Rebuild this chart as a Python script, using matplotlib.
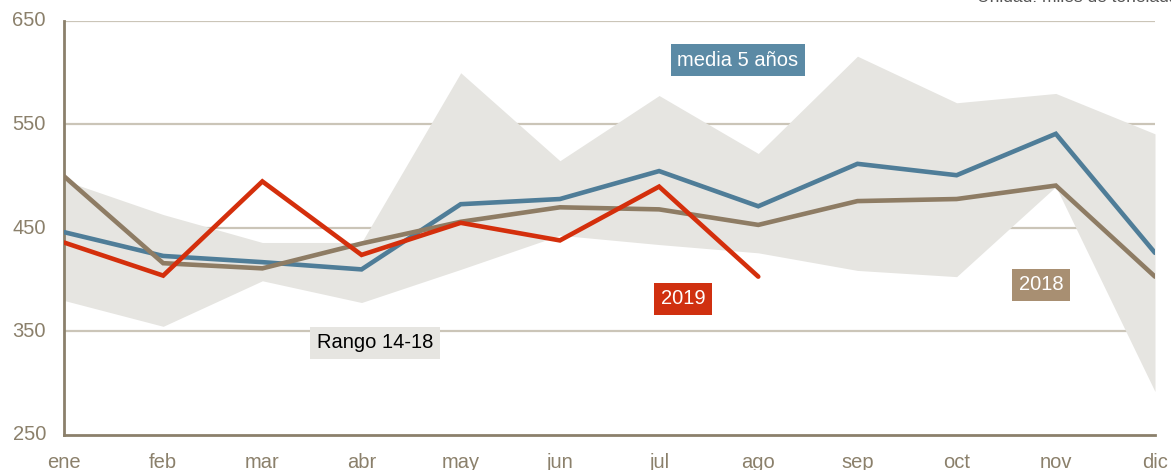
import numpy as np
import matplotlib
matplotlib.use('Agg')
import matplotlib.pyplot as plt

plt.rcParams['font.family'] = ['Liberation Sans', 'DejaVu Sans']

# data (miles de toneladas)
meses = ['ene', 'feb', 'mar', 'abr', 'may', 'jun', 'jul', 'ago', 'sep', 'oct', 'nov', 'dic']
rango_max = [496, 463, 436, 436, 600, 515, 578, 522, 616, 571, 580, 541]
rango_min = [380, 355, 399, 378, 410, 443, 434, 426, 409, 403, 490, 292]
media5 = [446, 423, 417, 410, 473, 478, 505, 471, 512, 501, 541, 426]
y2018 = [500, 416, 411, 435, 456, 470, 468, 453, 476, 478, 491, 403]
y2019 = [436, 404, 495, 424, 455, 438, 490, 403]

c_band = '#e6e5e1'
c_blue = '#4f7d98'
c_brown = '#8e7c64'
c_red = '#d42f0c'
c_axis = '#8b806b'
c_grid = '#cbc5b8'

fig = plt.figure(figsize=(11.71, 4.70), dpi=100)
ax = fig.add_axes([64/1171, 35/470, (1155-64)/1171, 414/470])

x = np.arange(len(meses))
ax.fill_between(x, rango_min, rango_max, color=c_band, lw=0, zorder=1)
for yv in [350, 450, 550, 650]:
    ax.axhline(yv, color=c_grid, lw=1.6, zorder=0.5)

ax.plot(x, media5, color=c_blue, lw=3.3, zorder=3, solid_capstyle='round', solid_joinstyle='miter')
ax.plot(x, y2018, color=c_brown, lw=3.3, zorder=4, solid_capstyle='round', solid_joinstyle='miter')
ax.plot(x[:len(y2019)], y2019, color=c_red, lw=3.3, zorder=5, solid_capstyle='round', solid_joinstyle='miter')

ax.set_xlim(0, 11)
ax.set_ylim(250, 650)
ax.set_yticks([250, 350, 450, 550, 650])
ax.set_xticks(x)
ax.set_xticklabels(meses)
ax.tick_params(length=0, labelsize=14.5, labelcolor=c_axis)
ax.tick_params(axis='y', pad=13)
ax.tick_params(axis='x', pad=13)
for lab in ax.get_yticklabels():
    lab.set_verticalalignment('center')

for s in ['top', 'right']:
    ax.spines[s].set_visible(False)
for s in ['left', 'bottom']:
    ax.spines[s].set_color(c_axis)
    ax.spines[s].set_linewidth(2)

# labels
def caja(xp, yp, txt, fc, tc):
    fig.text(xp/1171, 1 - yp/470, txt, fontsize=14.5, color=tc, ha='center', va='center',
             bbox=dict(boxstyle='square,pad=0.33', fc=fc, ec='none'), zorder=10)

caja(738, 60, 'media 5 años', '#5b8aa5', 'white')
caja(683, 299, '2019', '#d03010', 'white')
caja(1041, 285, '2018', '#a88f72', 'white')
caja(375, 343, 'Rango 14-18', c_band, 'black')

fig.text(977/1171, 1 - 2.5/470, 'Unidad: miles de toneladas', fontsize=12.5, color='#555555',
         ha='left', va='baseline')

fig.savefig('out.png', dpi=100)
